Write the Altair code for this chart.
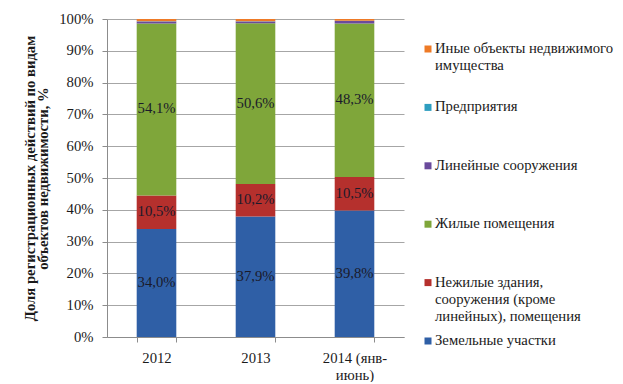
import altair as alt
import pandas as pd

years = ["2012", "2013", "2014 (янв-\nиюнь)"]
series = [
    "Земельные участки",
    "Нежилые здания,\nсооружения (кроме\nлинейных), помещения",
    "Жилые помещения",
    "Линейные сооружения",
    "Предприятия",
    "Иные объекты недвижимого\nимущества",
]
colors = ["#2f5fa6", "#b5302d", "#7fa63a", "#6a4a9c", "#2e9ec0", "#ee7a26"]

land = [34.0, 37.9, 39.8]
nonres = [10.5, 10.2, 10.5]
resid = [54.1, 50.6, 48.3]
linear = [0.6, 0.5, 0.8]
enterprise = [0.1, 0.1, 0.05]
other = [0.7, 0.7, 0.55]
labelled = [True, True, True, False, False, False]

values = [land, nonres, resid, linear, enterprise, other]
rows = []
for si, (name, vals) in enumerate(zip(series, values)):
    for yi, yr in enumerate(years):
        rows.append({"year": yr, "series": name, "order": si, "value": vals[yi],
                     "show": labelled[si]})
df = pd.DataFrame(rows)

FONT = "Liberation Serif"
FS = 14.7
color_scale = alt.Scale(domain=series, range=colors)

base = alt.Chart(df).transform_stack(
    stack="value", groupby=["year"], as_=["y0", "y1"],
    sort=[alt.SortField("order", order="ascending")]
).transform_calculate(
    mid="(datum.y0 + datum.y1) / 2",
    lbl="replace(format(datum.value, '.1f'), '.', ',') + '%'"
)

xaxis = alt.Axis(labelAngle=0, labelExpr="split(datum.label, '\\n')",
                 tickBand="extent", tickSize=5, labelPadding=8,
                 labelFontSize=FS, labelColor="#1a1a1a", labelFont=FONT,
                 domainColor="#8c8c8c", tickColor="#8c8c8c",
                 labelLineHeight=17)
xenc = alt.X("year:N", sort=years, title=None,
             scale=alt.Scale(paddingInner=0.6, paddingOuter=0.3), axis=xaxis)

yaxis = alt.Axis(values=list(range(0, 101, 10)), labelExpr="datum.value + '%'",
                 grid=True, gridColor="#a6a6a6", tickSize=5, labelPadding=9,
                 domainColor="#8c8c8c", tickColor="#8c8c8c", labelOverlap=False,
                 labelFontSize=FS, labelColor="#1a1a1a", labelFont=FONT,
                 titleFont=FONT, titleFontSize=FS, titleFontWeight="bold",
                 titleColor="#1a1a1a", titlePadding=8, titleLineHeight=13)
ytitle = ["Доля регистрационных действий по видам", "объектов недвижимости, %"]
yscale = alt.Scale(domain=[0, 100])

bars = base.mark_bar().encode(
    x=xenc,
    y=alt.Y("y0:Q", scale=yscale, title=ytitle, axis=yaxis),
    y2="y1:Q",
    color=alt.Color("series:N", scale=color_scale, legend=None),
)

texts = base.transform_filter("datum.show").mark_text(
    font=FONT, fontSize=FS, color="#1a1a2a", baseline="middle"
).encode(
    x=xenc,
    y=alt.Y("mid:Q", scale=yscale, title=ytitle, axis=yaxis),
    text="lbl:N",
)

main = alt.layer(bars, texts).properties(width=297, height=318)

leg_df = pd.DataFrame({"series": series[::-1]})
leg_y = alt.Y("series:N", sort=series[::-1], axis=None,
              scale=alt.Scale(type="point", range=[30, 322], padding=0))
leg_sq = alt.Chart(leg_df).mark_square(size=49, opacity=1).encode(
    x=alt.value(14), y=leg_y,
    color=alt.Color("series:N", scale=color_scale, legend=None),
)
leg_tx = alt.Chart(leg_df).mark_text(
    font=FONT, fontSize=FS, color="#1a1a1a", align="left", baseline="top",
    dy=-8, lineBreak="\n", lineHeight=17
).encode(x=alt.value(21), y=leg_y, text="series:N")
legend = alt.layer(leg_sq, leg_tx).properties(width=190, height=318)

chart = alt.hconcat(main, legend, spacing=10, bounds="flush").properties(
    padding={"left": 14, "top": 3, "right": 0, "bottom": 0}
).resolve_scale(y="independent").configure(font=FONT).configure_view(stroke=None)

chart.save("out.html", embed_options={"renderer": "svg", "actions": False})
